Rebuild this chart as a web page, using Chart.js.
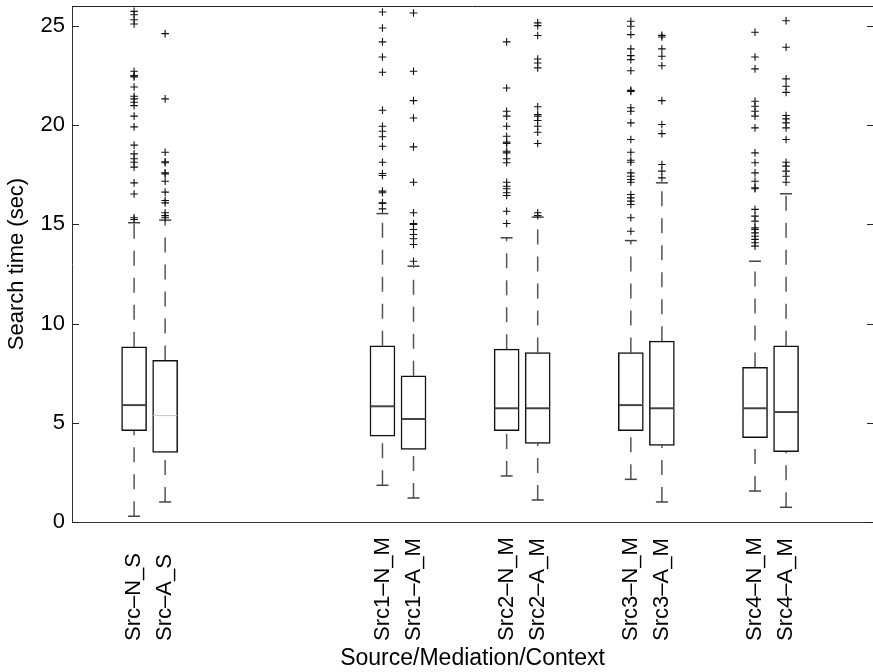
<!DOCTYPE html>
<html>
<head>
<meta charset="utf-8">
<script src="https://cdn.jsdelivr.net/npm/chart.js@4.4.1/dist/chart.umd.min.js"></script>
<style>
  html, body { margin: 0; padding: 0; background: #fff; }
</style>
</head>
<body>
<canvas id="chart" width="873" height="672"></canvas>
<script>
// groups: two single-source boxes, a gap, then four mediated pairs
const labels = ['Src–N_S', 'Src–A_S', 'Src1–N_M', 'Src1–A_M', 'Src2–N_M', 'Src2–A_M',
                'Src3–N_M', 'Src3–A_M', 'Src4–N_M', 'Src4–A_M'];
const slots = [2, 3, 10, 11, 14, 15, 18, 19, 22, 23];
const yTicks = [0, 5, 10, 15, 20, 25];

const q1 = [4.60, 3.51, 4.32, 3.66, 4.60, 3.96, 4.60, 3.86, 4.25, 3.54];
const median = [5.89, 5.36, 5.83, 5.19, 5.73, 5.73, 5.89, 5.73, 5.73, 5.54];
const q3 = [8.83, 8.14, 8.88, 7.37, 8.71, 8.54, 8.54, 9.11, 7.79, 8.88];
const whiskerLow = [0.29, 1.01, 1.85, 1.21, 2.32, 1.11, 2.15, 1.01, 1.56, 0.74];
const whiskerHigh = [15.08, 15.21, 15.54, 12.89, 14.32, 15.36, 14.18, 17.09, 13.14, 16.54];

const outliers = [
  [25.73, 25.56, 25.31, 25.09, 22.71, 22.49, 22.43, 21.92, 21.45, 21.32, 21.15, 20.98, 20.45, 19.91, 18.99, 18.55, 18.30, 18.13, 17.88, 17.09, 16.53, 15.33, 15.24],
  [24.61, 21.32, 18.63, 18.15, 18.10, 17.59, 17.54, 17.17, 16.62, 16.20, 16.08, 15.58, 15.44, 15.33],
  [25.70, 24.89, 24.19, 23.43, 22.66, 20.75, 19.94, 19.69, 19.41, 18.93, 18.13, 17.56, 17.46, 16.67, 16.59, 16.08, 16.05, 15.78],
  [25.65, 22.71, 21.23, 20.36, 18.90, 17.12, 15.58, 15.04, 14.99, 14.74, 14.49, 14.27, 13.98, 13.14],
  [24.19, 21.87, 20.70, 20.45, 19.94, 19.44, 19.14, 19.07, 18.68, 18.60, 18.30, 18.10, 17.12, 16.92, 16.79, 16.59, 16.45, 15.66, 15.04],
  [25.15, 25.01, 24.51, 23.33, 23.13, 22.88, 20.92, 20.53, 20.45, 20.23, 19.94, 19.64, 19.07, 15.58, 15.44],
  [25.23, 24.98, 24.56, 23.84, 23.50, 23.30, 22.74, 21.75, 21.70, 20.87, 20.70, 20.11, 19.27, 18.63, 18.23, 18.13, 17.59, 17.42, 17.26, 17.12, 16.50, 16.33, 16.17, 16.00, 15.33, 14.65],
  [24.52, 24.44, 23.84, 23.47, 22.99, 21.23, 20.03, 19.57, 18.01, 17.68, 17.34],
  [24.68, 23.43, 22.83, 21.20, 20.95, 20.70, 20.45, 19.86, 18.60, 18.10, 17.59, 17.17, 16.84, 16.79, 15.75, 15.41, 15.16, 14.82, 14.74, 14.57, 14.40, 14.24, 14.07, 13.90],
  [25.26, 23.92, 22.33, 21.96, 21.65, 20.48, 20.31, 20.11, 19.86, 19.27, 18.13, 17.93, 17.68, 17.42, 17.12]
];

const FONT = '"Liberation Sans", Arial, Helvetica, sans-serif';

// whiskers: lower one runs cap -> box, upper one box -> cap, null breaks the line
const whiskerPts = [];
slots.forEach((x, i) => {
  whiskerPts.push({ x, y: whiskerLow[i] }, { x, y: q1[i] }, { x, y: null });
  whiskerPts.push({ x, y: q3[i] }, { x, y: whiskerHigh[i] }, { x, y: null });
});
const capPts = [];
slots.forEach((x, i) => {
  capPts.push({ x, y: whiskerLow[i] }, { x, y: whiskerHigh[i] });
});
const outlierPts = [];
slots.forEach((x, i) => outliers[i].forEach(y => outlierPts.push({ x, y })));

// inner tick marks, top frame line and the rotated category labels
const framePlugin = {
  id: 'frame',
  afterDraw(chart) {
    const { ctx, chartArea: a, scales: { x, y } } = chart;
    ctx.save();
    ctx.strokeStyle = '#222';
    ctx.lineWidth = 1;
    ctx.beginPath();
    ctx.moveTo(a.left, a.top + 0.5);
    ctx.lineTo(a.right, a.top + 0.5);
    yTicks.forEach(v => {
      const py = Math.round(y.getPixelForValue(v)) + 0.5;
      ctx.moveTo(a.left, py);
      ctx.lineTo(a.left + 7, py);
      ctx.moveTo(a.right - 6, py);
      ctx.lineTo(a.right, py);
    });
    ctx.stroke();

    ctx.fillStyle = '#000';
    ctx.font = '22px ' + FONT;
    ctx.textAlign = 'left';
    ctx.textBaseline = 'middle';
    labels.forEach((t, i) => {
      ctx.save();
      ctx.translate(x.getPixelForValue(slots[i]), a.bottom + 119);
      ctx.rotate(-Math.PI / 2);
      ctx.fillText(t, 0, 0);
      ctx.restore();
    });
    ctx.restore();
  }
};

new Chart(document.getElementById('chart'), {
  type: 'bar',
  data: {
    datasets: [
      {
        type: 'line',
        data: whiskerPts,
        borderColor: '#555',
        borderWidth: 1.5,
        borderDash: [15, 12],
        pointRadius: 0,
        spanGaps: false,
        order: 5
      },
      {
        type: 'bar',
        data: slots.map((x, i) => ({ x, y: [q1[i], q3[i]] })),
        backgroundColor: '#fff',
        borderColor: '#111',
        borderWidth: 1.5,
        borderSkipped: false,
        barThickness: 25,
        order: 4
      },
      {
        type: 'scatter',
        data: slots.map((x, i) => ({ x, y: median[i] })),
        pointStyle: 'line',
        pointRadius: 12,
        borderWidth: slots.map((x, i) => i === 1 ? 1 : 2),
        borderColor: slots.map((x, i) => i === 1 ? '#c8c8c8' : '#444'),
        order: 3
      },
      {
        type: 'scatter',
        data: capPts,
        pointStyle: 'line',
        pointRadius: 6,
        borderWidth: 1.5,
        borderColor: '#444',
        order: 2
      },
      {
        type: 'scatter',
        data: outlierPts,
        pointStyle: 'cross',
        pointRadius: 3.8,
        borderWidth: 1.1,
        borderColor: '#111',
        order: 1
      }
    ]
  },
  options: {
    responsive: false,
    animation: false,
    devicePixelRatio: 1,
    layout: { autoPadding: false, padding: { top: 6, right: 0, left: 0, bottom: 0 } },
    plugins: { legend: { display: false }, tooltip: { enabled: false } },
    scales: {
      x: {
        type: 'linear',
        min: 0,
        max: 25.8,
        offset: false,
        grid: { display: false, offset: false },
        border: { display: true, color: '#333', width: 1 },
        ticks: { display: false },
        title: {
          display: true,
          text: 'Source/Mediation/Context',
          color: '#000',
          font: { family: FONT, size: 23 },
          padding: { top: 0, bottom: 0 }
        },
        afterFit(scale) { scale.height = 150; }
      },
      y: {
        type: 'linear',
        min: 0,
        max: 26,
        grid: { display: false, drawTicks: false },
        border: { display: true, color: '#333', width: 1 },
        ticks: { color: '#000', padding: 7, font: { family: FONT, size: 22 } },
        afterBuildTicks(scale) { scale.ticks = yTicks.map(v => ({ value: v })); },
        title: {
          display: true,
          text: 'Search time (sec)',
          color: '#000',
          font: { family: FONT, size: 22 },
          padding: { top: 4, bottom: 0 }
        },
        afterFit(scale) {
          scale.width = 72;
          scale.paddingTop = 0;
          scale.paddingBottom = 0;
        }
      }
    }
  },
  plugins: [framePlugin]
});
</script>
</body>
</html>
